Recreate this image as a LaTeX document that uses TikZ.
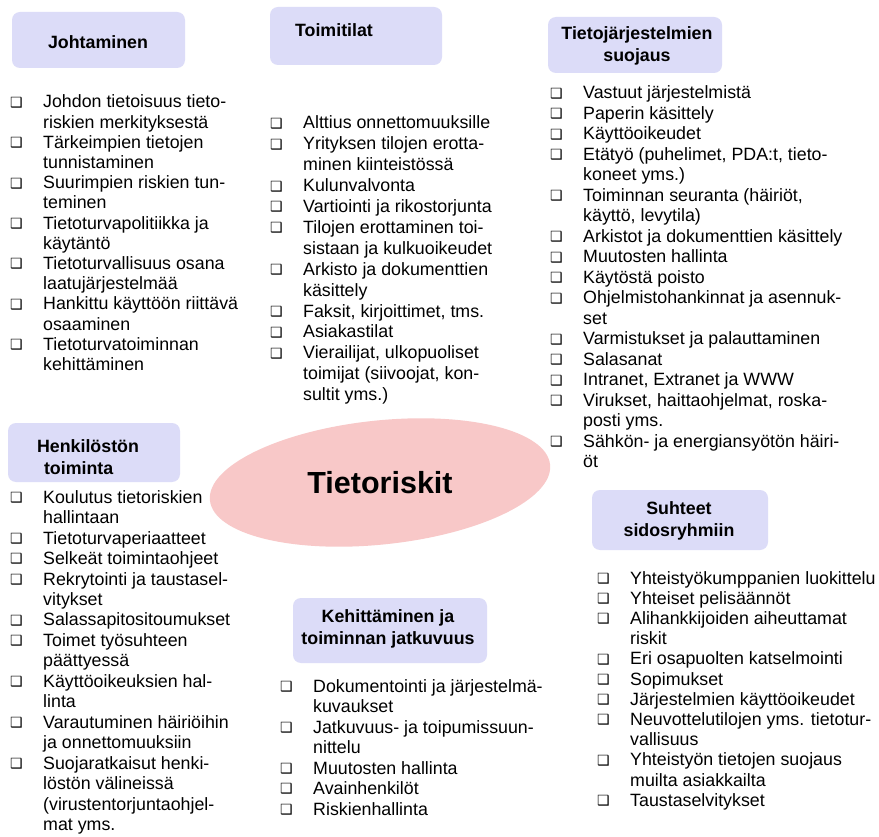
\documentclass[tikz,border=0pt]{standalone}
\usepackage{fontspec}
\setmainfont{Liberation Sans}
\newfontfamily\dejavu{DejaVu Sans}
\usetikzlibrary{shapes.geometric}
\definecolor{hdrfill}{RGB}{220,220,248}
\definecolor{ellfill}{RGB}{248,200,200}
\newcommand{\bx}{\makebox[33pt][l]{\hspace{0pt}\raisebox{0.6pt}{\dejavu\fontsize{14}{12}\selectfont ❑}}}
\newcommand{\lf}[1]{\fontsize{17.8}{#1}\selectfont}
\tikzset{
  hdrbox/.style={fill=hdrfill, rounded corners=8pt},
  hdrtext/.style={font=\bfseries\fontsize{17.8}{22}\selectfont, inner sep=0pt, align=center},
  listnode/.style={anchor=base west, inner sep=0pt},
  ellnode/.style={ellipse, fill=ellfill, inner sep=0pt}
}
\begin{document}
\begin{tikzpicture}[x=1pt,y=-1pt]
\useasboundingbox (0,0) rectangle (879,837);
\fill[white] (0,0) rectangle (879,837);

% central ellipse
\node[ellnode, minimum width=342pt, minimum height=124pt, rotate=6] (ell) at (380,482.5) {};
\node[font=\bfseries\fontsize{30.5}{32}\selectfont, inner sep=0pt] (center) at (380,483) {Tietoriskit};

% headers
\fill[hdrbox] (12,12) rectangle (185,68);
\node[hdrtext] (h1) at (98,42) {Johtaminen};
\fill[hdrbox] (270,7) rectangle (442,65);
\node[hdrtext] (h2) at (334,30) {Toimitilat};
\fill[hdrbox] (548,17) rectangle (722,73);
\node[hdrtext] (h3) at (637,46) {Tietojärjestelmien\\suojaus};
\fill[hdrbox] (8,423) rectangle (180,482);
\node[hdrtext, align=left] (h4) at (88,457) {Henkilöstön\\\hspace*{7pt}toiminta};
\fill[hdrbox] (293,598) rectangle (487,663);
\node[hdrtext] (h5) at (388,628.5) {Kehittäminen ja\\toiminnan jatkuvuus};
\fill[hdrbox] (592,490) rectangle (768,550);
\node[hdrtext] (h6) at (679,521) {Suhteet\\sidosryhmiin};

% lists
\node[listnode, font=\lf{20.2}] (l1) at (10,108) {\begin{tabular}[t]{@{}l@{}l@{}}
\bx & Johdon tietoisuus tieto-\\
 & riskien merkityksestä\\
\bx & Tärkeimpien tietojen\\
 & tunnistaminen\\
\bx & Suurimpien riskien tun-\\
 & teminen\\
\bx & Tietoturvapolitiikka ja\\
 & käytäntö\\
\bx & Tietoturvallisuus osana\\
 & laatujärjestelmää\\
\bx & Hankittu käyttöön riittävä\\
 & osaaminen\\
\bx & Tietoturvatoiminnan\\
 & kehittäminen
\end{tabular}};

\node[listnode, font=\lf{20.9}] (l2) at (270,129) {\begin{tabular}[t]{@{}l@{}l@{}}
\bx & Alttius onnettomuuksille\\
\bx & Yrityksen tilojen erotta-\\
 & minen kiinteistössä\\
\bx & Kulunvalvonta\\
\bx & Vartiointi ja rikostorjunta\\
\bx & Tilojen erottaminen toi-\\
 & sistaan ja kulkuoikeudet\\
\bx & Arkisto ja dokumenttien\\
 & käsittely\\
\bx & Faksit, kirjoittimet, tms.\\
\bx & Asiakastilat\\
\bx & Vierailijat, ulkopuoliset\\
 & toimijat (siivoojat, kon-\\
 & sultit yms.)
\end{tabular}};

\node[listnode, font=\lf{20.5}] (l3) at (550,99) {\begin{tabular}[t]{@{}l@{}l@{}}
\bx & Vastuut järjestelmistä\\
\bx & Paperin käsittely\\
\bx & Käyttöoikeudet\\
\bx & Etätyö (puhelimet, PDA:t, tieto-\\
 & koneet yms.)\\
\bx & Toiminnan seuranta (häiriöt,\\
 & käyttö, levytila)\\
\bx & Arkistot ja dokumenttien käsittely\\
\bx & Muutosten hallinta\\
\bx & Käytöstä poisto\\
\bx & Ohjelmistohankinnat ja asennuk-\\
 & set\\
\bx & Varmistukset ja palauttaminen\\
\bx & Salasanat\\
\bx & Intranet, Extranet ja WWW\\
\bx & Virukset, haittaohjelmat, roska-\\
 & posti yms.\\
\bx & Sähkön- ja energiansyötön häiri-\\
 & öt
\end{tabular}};

\node[listnode, font=\lf{20.5}] (l4) at (10,503) {\begin{tabular}[t]{@{}l@{}l@{}}
\bx & Koulutus tietoriskien\\
 & hallintaan\\
\bx & Tietoturvaperiaatteet\\
\bx & Selkeät toimintaohjeet\\
\bx & Rekrytointi ja taustasel-\\
 & vitykset\\
\bx & Salassapitositoumukset\\
\bx & Toimet työsuhteen\\
 & päättyessä\\
\bx & Käyttöoikeuksien hal-\\
 & linta\\
\bx & Varautuminen häiriöihin\\
 & ja onnettomuuksiin\\
\bx & Suojaratkaisut henki-\\
 & löstön välineissä\\
 & (virustentorjuntaohjel-\\
 & mat yms.
\end{tabular}};

\node[listnode, font=\lf{20.5}] (l5) at (280,692) {\begin{tabular}[t]{@{}l@{}l@{}}
\bx & Dokumentointi ja järjestelmä-\\
 & kuvaukset\\
\bx & Jatkuvuus- ja toipumissuun-\\
 & nittelu\\
\bx & Muutosten hallinta\\
\bx & Avainhenkilöt\\
\bx & Riskienhallinta
\end{tabular}};

\node[listnode, font=\lf{20.2}] (l6) at (597,584) {\begin{tabular}[t]{@{}l@{}l@{}}
\bx & Yhteistyökumppanien luokittelu\\
\bx & Yhteiset pelisäännöt\\
\bx & Alihankkijoiden aiheuttamat\\
 & riskit\\
\bx & Eri osapuolten katselmointi\\
\bx & Sopimukset\\
\bx & Järjestelmien käyttöoikeudet\\
\bx & Neuvottelutilojen yms. tietotur-\\
 & vallisuus\\
\bx & Yhteistyön tietojen suojaus\\
 & muilta asiakkailta\\
\bx & Taustaselvitykset
\end{tabular}};
\end{tikzpicture}
\end{document}
